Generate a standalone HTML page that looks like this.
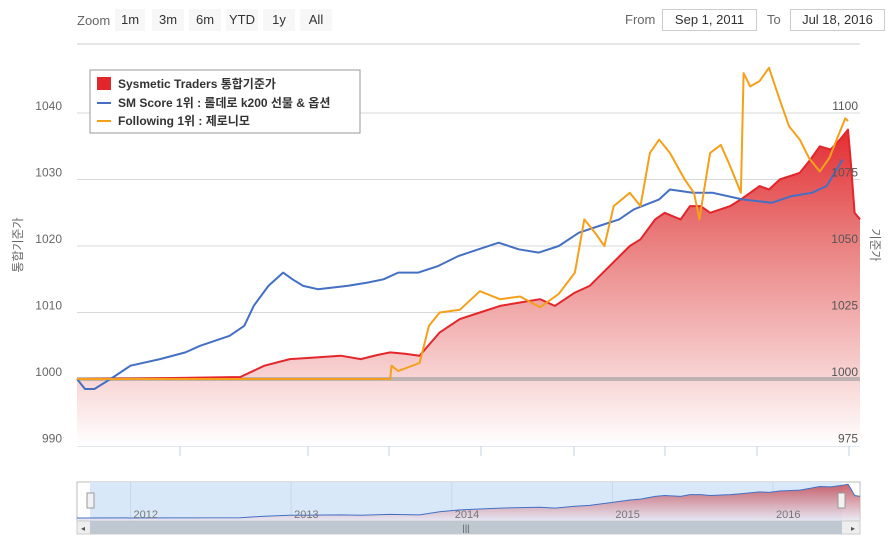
<!DOCTYPE html>
<html><head><meta charset="utf-8">
<style>
body{margin:0;background:#fff;font-family:"Liberation Sans","Noto Sans CJK KR",sans-serif;}
#wrap{position:relative;width:894px;height:550px;overflow:hidden}
.btn{position:absolute;top:9px;height:22px;background:#f7f7f7;font-size:13px;color:#333;line-height:22px;text-align:center}
.inp{position:absolute;top:9px;height:20px;border:1px solid #ccc;font-size:13px;color:#333;line-height:20px;text-align:center}
.lbl{position:absolute;font-size:13px;color:#666}
</style></head><body>
<div id="wrap">
<span class="lbl" style="left:77px;top:13px">Zoom</span>
<div class="btn" style="left:115px;width:30px">1m</div>
<div class="btn" style="left:152px;width:32px">3m</div>
<div class="btn" style="left:189px;width:32px">6m</div>
<div class="btn" style="left:226px;width:32px">YTD</div>
<div class="btn" style="left:263px;width:32px">1y</div>
<div class="btn" style="left:300px;width:32px">All</div>
<span class="lbl" style="left:625px;top:12px">From</span>
<div class="inp" style="left:662px;width:93px">Sep 1, 2011</div>
<span class="lbl" style="left:767px;top:12px">To</span>
<div class="inp" style="left:790px;width:93px">Jul 18, 2016</div>
<svg id="svg" width="894" height="550" style="position:absolute;left:0;top:0"></svg>
</div>
<script>
// months since Sep 1 2011
const redM=[0,6,12.2,14,15.9,17.5,19.7,21.2,22.4,23.4,24.5,25.6,27.1,28.6,30.1,31.6,33.1,34.6,35.7,37.2,38.3,39.8,41.3,42.1,43.2,43.9,45.1,45.8,46.6,47.3,48.8,49.6,51.0,51.7,52.5,54.0,54.8,55.5,56.3,57.0,57.6,57.8,58.1,58.5];
const redV=[1000,1000.1,1000.3,1002,1003,1003.2,1003.5,1003,1003.6,1004,1003.8,1003.5,1007,1009,1010,1011,1011.5,1012,1011,1013,1014,1017,1020,1021,1024,1025,1024,1026,1026,1025,1026,1027,1029,1028.5,1030,1031,1033,1035,1034.5,1036,1037.5,1033,1025,1024];
const blueM=[0,0.6,1.3,2.5,4,6.2,8.1,9.2,11.4,12.5,13.2,14.3,15.4,16.1,16.9,18,20.2,21.7,22.9,24,25.5,27,28.5,30,31.5,33,34.5,36,37.5,39,40.5,41.6,43.5,44.3,46,47.5,49.7,51.9,53.4,54.9,56,56.6,57.2];
const blueV=[1000,998.5,998.5,1000,1002,1003,1004,1005,1006.5,1008,1011,1014,1016,1015,1014,1013.5,1014,1014.5,1015,1016,1016,1017,1018.5,1019.5,1020.5,1019.5,1019,1020,1022,1023,1024,1025.5,1027,1028.5,1028,1028,1027,1026.5,1027.5,1028,1029,1031,1033,1032];
const orgM=[0,23.4,23.5,24,25.6,26.3,27.1,28.6,30.1,31.6,33.1,34.6,36,37.2,37.9,38.7,39.4,40.1,41.3,42.1,42.8,43.5,44.3,45.4,46.1,46.5,47.3,48.1,48.8,49.6,49.8,50.3,51,51.7,52.5,53.2,54,54.7,55.5,56.2,57,57.4,57.6];
const orgV=[1000,1000,1005,1003,1006,1020,1025,1026,1033,1030,1031,1027,1032,1040,1060,1055,1050,1065,1070,1065,1085,1090,1085,1075,1070,1060,1085,1088,1080,1070,1115,1110,1112,1117,1105,1095,1090,1083,1078,1083,1093,1098,1097];
const leftTicks=[990,1000,1010,1020,1030,1040];
const rightTicks=[975,1000,1025,1050,1075,1100];
const navYears=["2012","2013","2014","2015","2016"];
const navYearM=[4,16,28,40,52];

const svg=document.getElementById('svg');const NS='http://www.w3.org/2000/svg';
function el(t,a,p){const e=document.createElementNS(NS,t);for(const k in a)e.setAttribute(k,a[k]);(p||svg).appendChild(e);return e;}
const X0=77,X1=860;const xm=m=>X0+m*(X1-X0)/58.5;
const yl=v=>379-(v-1000)*6.65;const yr=v=>379-(v-1000)*2.66;
const yn=v=>518-(v-1000)*0.9;
const defs=el('defs',{});
const g1=el('linearGradient',{id:'rg',x1:0,y1:120,x2:0,y2:446,gradientUnits:'userSpaceOnUse'},defs);
el('stop',{offset:0,'stop-color':'#e2262b'},g1);el('stop',{offset:0.35,'stop-color':'#e97a7a'},g1);el('stop',{offset:1,'stop-color':'#ffffff'},g1);
const g2=el('linearGradient',{id:'ng',x1:0,y1:482,x2:0,y2:521,gradientUnits:'userSpaceOnUse'},defs);
el('stop',{offset:0,'stop-color':'#c0404a'},g2);el('stop',{offset:1,'stop-color':'#e8e8f4'},g2);
// grid
leftTicks.forEach((v,i)=>{
 const l=el('line',{x1:X0,x2:X1,y1:yl(v),y2:yl(v),stroke:'#d8d8d8'});
 
 const t=el('text',{x:62,y:yl(v)-3,'text-anchor':'end','font-size':12,fill:'#666'});t.textContent=v;
 
});
let t=el('text',{x:22,y:245,'font-size':12,fill:'#666','text-anchor':'middle',transform:'rotate(-90 22 245)'});t.textContent='통합기준가';

t=el('text',{x:871,y:245,'font-size':12,fill:'#666','text-anchor':'middle',transform:'rotate(90 871 245)'});t.textContent='기준가';

el('line',{x1:X0,x2:X1,y1:44,y2:44,stroke:'#ccc'});
el('line',{x1:X0,x2:X1,y1:446,y2:446,stroke:'#c0d0e0'});
[180,308,389,481,574,665,757,849].forEach(x=>el('line',{x1:x,x2:x,y1:446,y2:456,stroke:'#c0d0e0'}));
// red area
let d='M'+xm(redM[0])+' 446';redM.forEach((m,i)=>d+=' L'+xm(m).toFixed(1)+' '+yl(redV[i]).toFixed(1));d+=' L'+xm(redM[redM.length-1])+' 446Z';
let p=el('path',{d:d,fill:'url(#rg)'});
el('rect',{x:X0,y:377,width:X1-X0,height:4,fill:'#999',opacity:0.6});
function line(M,V,f,c,w,name){let d='';M.forEach((m,i)=>d+=(i?' L':'M')+xm(m).toFixed(1)+' '+f(V[i]).toFixed(1));
 const p=el('path',{d:d,fill:'none',stroke:c,'stroke-width':w,'stroke-linejoin':'round'});
 }
line(redM,redV,yl,'#e2262b',2,'sysmetic-traders-line');
line(blueM,blueV,yl,'#4470c4',2,'sm-score-line');
line(orgM,orgV,yr,'#f5a01a',2,'following-line');
rightTicks.forEach(v=>{
 const t=el('text',{x:858,y:yr(v)-3,'text-anchor':'end','font-size':12,fill:'#555'});t.textContent=v;
 
});
// legend
const lg=el('g',{});
el('rect',{x:90,y:70,width:270,height:63,fill:'#fff',stroke:'#999'},lg);
el('rect',{x:97,y:77,width:14,height:13,fill:'#e2262b'},lg);
el('line',{x1:97,x2:111,y1:103,y2:103,stroke:'#4470c4','stroke-width':2},lg);
el('line',{x1:97,x2:111,y1:121,y2:121,stroke:'#f5a01a','stroke-width':2},lg);
[['Sysmetic Traders 통합기준가',88],['SM Score 1위 : 롤데로 k200 선물 & 옵션',107],['Following 1위 : 제로니모',125]].forEach((a,i)=>{
 const tt=el('text',{x:118,y:a[1],'font-size':12,'font-weight':'bold',fill:'#333'},lg);tt.textContent=a[0];
 });
// navigator
el('rect',{x:77,y:482,width:783,height:39,fill:'#fff',stroke:'#bbb'});
el('rect',{x:90,y:482,width:752,height:39,fill:'#d9e8f8'});
navYears.forEach((y,i)=>{el('line',{x1:xm(navYearM[i]),x2:xm(navYearM[i]),y1:482,y2:521,stroke:'#c8d8e8'});});
let nd='M'+xm(redM[0])+' 521';redM.forEach((m,i)=>nd+=' L'+xm(m).toFixed(1)+' '+yn(redV[i]).toFixed(1));
nd+=' L'+xm(redM[redM.length-1])+' 521Z';
p=el('path',{d:nd,fill:'url(#ng)',opacity:0.85});
let nl='';redM.forEach((m,i)=>nl+=(i?' L':'M')+xm(m).toFixed(1)+' '+yn(redV[i]).toFixed(1));
el('path',{d:nl,fill:'none',stroke:'#4470c4','stroke-width':1});
navYears.forEach((y,i)=>{const tx=el('text',{x:xm(navYearM[i])+3,y:518,'font-size':11,fill:'#777'});tx.textContent=y;
 });
[[87,'navigator-left-handle'],[838,'navigator-right-handle']].forEach(h=>{const r=el('rect',{x:h[0],y:493,width:7,height:15,fill:'#f2f2f2',stroke:'#999'});
 });
// scrollbar
el('rect',{x:77,y:521,width:783,height:13,fill:'#eee',stroke:'#ccc'});
const sb=el('rect',{x:90,y:521,width:752,height:13,fill:'#bfc8d1'});
t=el('text',{x:466,y:531,'font-size':9,fill:'#555','text-anchor':'middle'});t.textContent='|||';
t=el('text',{x:83,y:531,'font-size':8,fill:'#555','text-anchor':'middle'});t.textContent='◂';

t=el('text',{x:853,y:531,'font-size':8,fill:'#555','text-anchor':'middle'});t.textContent='▸';

</script>
</body></html>
